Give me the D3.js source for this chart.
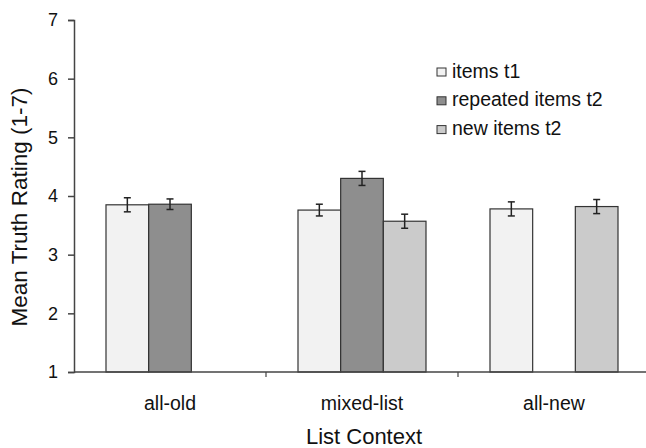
<!DOCTYPE html>
<html>
<head>
<meta charset="utf-8">
<script src="https://cdn.jsdelivr.net/npm/d3@7"></script>
<style>
  body { margin: 0; background: #fff; }
  svg text { font-family: "Liberation Sans", Arial, sans-serif; fill: #111; }
</style>
</head>
<body>
<div id="chart"></div>
<script>
const contexts = ["all-old", "mixed-list", "all-new"];
const seriesNames = ["items t1", "repeated items t2", "new items t2"];
const seriesColors = ["#f2f2f2", "#8e8e8e", "#cbcbcb"];
// mean ratings per series, in context order (null = no bar)
const itemsT1 = [3.85, 3.76, 3.78];
const repeatedT2 = [3.86, 4.30, null];
const newT2 = [null, 3.57, 3.82];
// standard errors
const itemsT1Err = [0.12, 0.10, 0.12];
const repeatedT2Err = [0.09, 0.12, null];
const newT2Err = [null, 0.12, 0.12];
const yTicks = [1, 2, 3, 4, 5, 6, 7];

const values = [itemsT1, repeatedT2, newT2];
const errors = [itemsT1Err, repeatedT2Err, newT2Err];

const rows = [];
contexts.forEach((c, i) => {
  seriesNames.forEach((s, j) => {
    if (values[j][i] != null) rows.push({ context: c, series: s, idx: j, value: values[j][i], err: errors[j][i] });
  });
});

const W = 646, H = 448;
const margin = { top: 20, right: -4, bottom: 76, left: 74 };
const width = W - margin.left - margin.right;
const height = H - margin.top - margin.bottom;

const svg = d3.select("#chart").append("svg")
  .attr("width", W).attr("height", H);
const g = svg.append("g").attr("transform", `translate(${margin.left},${margin.top})`);

const x0 = d3.scaleBand().domain(contexts).range([0, width]);
const x1 = d3.scaleBand().domain(seriesNames).range([0, x0.bandwidth()]).paddingOuter(0.75);
const y = d3.scaleLinear().domain([1, 7]).range([height, 0]);

// Bars
g.selectAll(".bar")
  .data(rows)
  .join("rect")
  .attr("class", "bar")
  .attr("x", (d) => x0(d.context) + x1(d.series))
  .attr("y", (d) => y(d.value))
  .attr("width", x1.bandwidth())
  .attr("height", (d) => y(1) - y(d.value))
  .attr("fill", (d) => seriesColors[d.idx])
  .attr("stroke", "#333")
  .attr("stroke-width", 1.2);

// Error bars
const eb = g.selectAll(".err").data(rows).join("g").attr("class", "err")
  .attr("stroke", "#222").attr("stroke-width", 1.5);
const cx = (d) => x0(d.context) + x1(d.series) + x1.bandwidth() / 2;
eb.append("line")
  .attr("x1", cx).attr("x2", cx)
  .attr("y1", (d) => y(d.value + d.err)).attr("y2", (d) => y(d.value - d.err));
eb.append("line")
  .attr("x1", (d) => cx(d) - 3.5).attr("x2", (d) => cx(d) + 3.5)
  .attr("y1", (d) => y(d.value + d.err)).attr("y2", (d) => y(d.value + d.err));
eb.append("line")
  .attr("x1", (d) => cx(d) - 3.5).attr("x2", (d) => cx(d) + 3.5)
  .attr("y1", (d) => y(d.value - d.err)).attr("y2", (d) => y(d.value - d.err));

// Y axis
g.append("g")
  .call(d3.axisLeft(y).tickValues(yTicks).tickSize(6).tickPadding(10).tickFormat(d3.format("d")))
  .call((a) => a.selectAll("line, path").attr("stroke", "#444").attr("stroke-width", 1.5))
  .selectAll("text")
  .attr("font-size", "18px")
  .attr("fill", "#111");

// X axis: ticks at group boundaries
const xAxis = g.append("g").attr("transform", `translate(0,${height})`);
xAxis.append("line")
  .attr("x1", 0).attr("x2", width)
  .attr("stroke", "#444").attr("stroke-width", 1.5);
xAxis.selectAll(".sep")
  .data(contexts.slice(1))
  .join("line")
  .attr("x1", (d) => x0(d)).attr("x2", (d) => x0(d))
  .attr("y1", 0).attr("y2", 5)
  .attr("stroke", "#444").attr("stroke-width", 1.2);
xAxis.selectAll(".cat")
  .data(contexts)
  .join("text")
  .attr("x", (d) => x0(d) + x0.bandwidth() / 2)
  .attr("y", 38)
  .attr("text-anchor", "middle")
  .attr("font-size", "19.5px")
  .text((d) => d);

// Axis titles
svg.append("text")
  .attr("x", 364).attr("y", 444)
  .attr("text-anchor", "middle")
  .attr("font-size", "22px")
  .text("List Context");
svg.append("text")
  .attr("transform", "translate(27,207) rotate(-90)")
  .attr("text-anchor", "middle")
  .attr("font-size", "22.5px")
  .text("Mean Truth Rating (1-7)");

// Legend
const legend = svg.append("g").attr("transform", "translate(437,68)");
const li = legend.selectAll("g").data(seriesNames).join("g")
  .attr("transform", (d, i) => `translate(0,${i * 28.8})`);
li.append("rect")
  .attr("width", 9).attr("height", 8)
  .attr("fill", (d, i) => seriesColors[i])
  .attr("stroke", "#333").attr("stroke-width", 1);
li.append("text")
  .attr("x", 15).attr("y", 9.5)
  .attr("font-size", "19.5px")
  .text((d) => d);
</script>
</body>
</html>
